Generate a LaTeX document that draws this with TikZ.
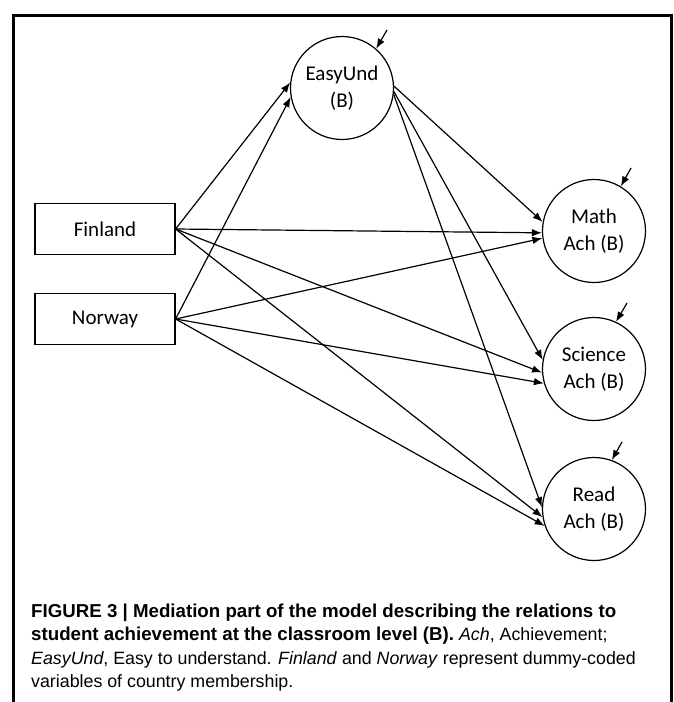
\documentclass[tikz,border=0pt]{standalone}
\usepackage{fontspec}
\setmainfont{Liberation Sans}
\newfontfamily\calibri{Carlito}
\usetikzlibrary{arrows.meta}
\newcommand\capbf[1]{{\fontsize{18.7}{23.5}\selectfont\bfseries #1}}
\tikzset{%
	block/.style    = {draw, line width=1.2pt, rectangle, minimum height = 51pt,
		minimum width = 140pt, font=\calibri\fontsize{21}{26.5}\selectfont},
	latent/.style   = {draw, line width=1.2pt, circle, minimum size = 103pt,
		inner sep=0pt, align=center, font=\calibri\fontsize{21}{26.5}\selectfont}, % Factor
	conn/.style     = {line width=1.2pt, -{Latex[length=10pt,width=7.5pt]}},
	resid/.style    = {coordinate}, % Residual
	caption/.style  = {anchor=base west, inner sep=0pt, font=\fontsize{17.8}{23.5}\selectfont}
}

\begin{document}
\begin{tikzpicture}[x=1pt,y=-1pt]
			\useasboundingbox (0,0) rectangle (673,702);
			\draw[line width=3pt] (13,702) -- (13,15) -- (671,15) -- (671,702);

			\node[latent] (easyUnd) at (342,88)  {EasyUnd\\(B)};
			\node[latent] (math)    at (594,231) {Math\\Ach (B)};
			\node[latent] (science) at (594,369) {Science\\Ach (B)};
			\node[latent] (read)    at (594,509) {Read\\Ach (B)};
			\node[block]  (finland) at (105,229) {Finland};
			\node[block]  (norway)  at (105,319) {Norway};

			\node[resid]  (eEasy)   at (387,30)  {};
			\node[resid]  (eMath)   at (631,168) {};
			\node[resid]  (eSci)    at (627,303) {};
			\node[resid]  (eRead)   at (622,442) {};

			\node[caption] (cap1) at (31,617)
				{\capbf{FIGURE 3 | Mediation part of the model describing the relations to}};
			\node[caption] (cap2) at (31,640.5)
				{\capbf{student achievement at the classroom level (B).} \textit{Ach}, Achievement;};
			\node[caption] (cap3) at (31,664)
				{\textit{EasyUnd}, Easy to understand. \textit{Finland} and \textit{Norway} represent dummy-coded};
			\node[caption] (cap4) at (31,687.5)
				{variables of country membership.};

			% residual arrows
			\draw[conn] (eEasy) -- (easyUnd.49);
			\draw[conn] (eMath) -- (math.59);
			\draw[conn] (eSci)  -- (science.65);
			\draw[conn] (eRead) -- (read.70);

			% country -> mediator
			\draw[conn] (finland.east) -- (easyUnd.174);
			\draw[conn] (norway.east)  -- (easyUnd.190);

			% country -> achievement
			\draw[conn] (finland.east) -- (math.182);
			\draw[conn] (finland.east) -- (science.184);
			\draw[conn] (finland.east) -- (read.189);
			\draw[conn] (norway.east)  -- (math.188);
			\draw[conn] (norway.east)  -- (science.196);
			\draw[conn] (norway.east)  -- (read.199);

			% mediator -> achievement
			\draw[conn] (easyUnd.2)  -- (math.170);
			\draw[conn] (easyUnd.-4) -- (science.170);
			\draw[conn] (easyUnd.-7) -- (read.178);
\end{tikzpicture}
\end{document}
